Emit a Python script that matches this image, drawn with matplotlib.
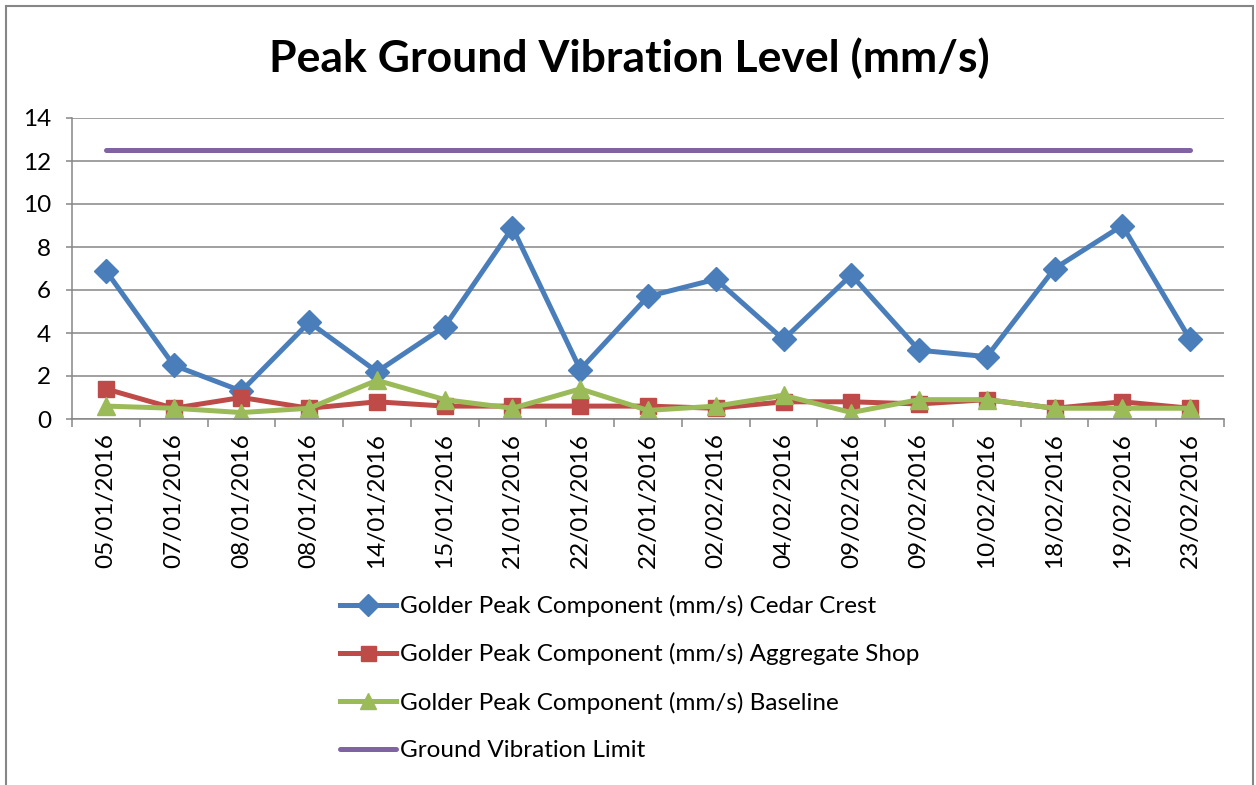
import matplotlib.pyplot as plt
from matplotlib.patches import Rectangle

plt.rcParams['font.family'] = ['Lato', 'DejaVu Sans']

# data
dates = ['05/01/2016', '07/01/2016', '08/01/2016', '08/01/2016', '14/01/2016',
         '15/01/2016', '21/01/2016', '22/01/2016', '22/01/2016', '02/02/2016',
         '04/02/2016', '09/02/2016', '09/02/2016', '10/02/2016', '18/02/2016',
         '19/02/2016', '23/02/2016']
cedar_crest = [6.9, 2.5, 1.3, 4.5, 2.2, 4.3, 8.9, 2.3, 5.7, 6.5, 3.7, 6.7, 3.2, 2.9, 7.0, 9.0, 3.7]
aggregate_shop = [1.4, 0.5, 1.0, 0.5, 0.8, 0.6, 0.6, 0.6, 0.6, 0.5, 0.8, 0.8, 0.7, 0.9, 0.5, 0.8, 0.5]
baseline = [0.6, 0.5, 0.3, 0.5, 1.8, 0.9, 0.5, 1.4, 0.4, 0.6, 1.1, 0.3, 0.9, 0.9, 0.5, 0.5, 0.5]
limit = [12.5] * len(dates)

labels = ['Golder Peak Component (mm/s) Cedar Crest',
          'Golder Peak Component (mm/s) Aggregate Shop',
          'Golder Peak Component (mm/s) Baseline',
          'Ground Vibration Limit']

gray = '#868686'
fig = plt.figure(figsize=(12.56, 7.85), dpi=100)
ax = fig.add_axes([72/1256, 1-419/785, (1224-72)/1256, (419-118)/785])

x = list(range(len(dates)))
ax.plot(x, cedar_crest, color='#4A7EBB', lw=3.6, marker='D', ms=12, label=labels[0])
ax.plot(x, aggregate_shop, color='#BE4B48', lw=3.6, marker='s', ms=12, label=labels[1])
ax.plot(x, baseline, color='#9BBB59', lw=3.6, marker='^', ms=13, label=labels[2])
ax.plot(x, limit, color='#8064A2', lw=3.6, solid_capstyle='round', label=labels[3])

ax.set_xlim(-0.5, len(dates) - 0.5)
ax.set_ylim(0, 14)
ax.set_yticks(range(0, 15, 2))
ax.yaxis.grid(True, color=gray, lw=1.1)
ax.set_axisbelow(True)

ax.set_xticks(x)
ax.set_xticklabels(dates, rotation=90)
ax.set_xticks([i - 0.5 for i in range(len(dates) + 1)], minor=True)
ax.tick_params(axis='x', which='major', length=0, pad=10, labelsize=17.5)
ax.tick_params(axis='x', which='minor', length=6, width=1.1, color=gray)
ax.tick_params(axis='y', length=4, width=1.1, color=gray, pad=11, labelsize=17.5)

for s in ['top', 'right']:
    ax.spines[s].set_visible(False)
for s in ['left', 'bottom']:
    ax.spines[s].set_color(gray)
    ax.spines[s].set_linewidth(1.1)

fig.text(629/1256, 1-58/785, 'Peak Ground Vibration Level (mm/s)', ha='center', va='center',
         fontsize=32, fontweight='bold')

fig.legend(loc='upper left', bbox_to_anchor=(340/1256, 1-595/785), frameon=False,
           fontsize=17.5, handlelength=2.3, handletextpad=0.15, labelspacing=1.08,
           borderpad=0, borderaxespad=0, markerscale=0.9)

fig.patches.append(Rectangle((6/1256, -0.01), (1253-6)/1256, 1.01-6/785,
                             transform=fig.transFigure, fill=False, edgecolor=gray, lw=1.5))

fig.savefig('out.png', dpi=100)
